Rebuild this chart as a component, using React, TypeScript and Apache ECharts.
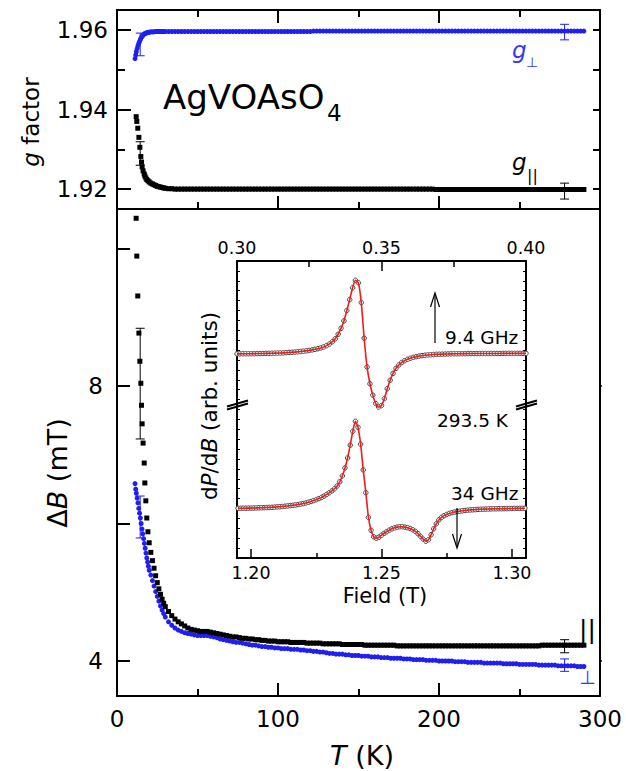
import React, { useEffect, useRef } from "react";
import * as echarts from "echarts";

// ---------- main panel data (T in K) ----------
const tPerpLow = [11.2, 11.6, 12.0, 12.5, 13.0, 13.5, 14.0, 14.5, 15.0, 15.5, 16.0, 16.5, 17.0, 17.5, 18.0, 18.5, 19.0, 19.5, 20.0, 21.0, 22.0, 23.0, 24.0, 25.0, 26.0, 27.0, 28.0, 29.0];
const tParLow = [11.9, 12.3, 12.9, 13.6, 14.2, 14.8, 15.2, 15.6, 16.2, 16.9, 17.3, 17.9, 18.5, 19.2, 20.0, 21.0, 22.0, 23.0, 24.0, 25.0, 26.0, 27.0, 28.0, 29.0];
const tHigh = [
  30, 32, 34, 36, 38, 40, 42, 44, 46, 48,
  50, 52, 54, 56, 58, 60, 62, 64, 66, 68,
  70, 72, 74, 76, 78, 80, 82, 84, 86, 88,
  90, 92, 94, 96, 98, 100, 102, 104, 106, 108,
  110, 112, 114, 116, 118, 120, 122, 124, 126, 128,
  130, 132, 134, 136, 138, 140, 142, 144, 146, 148,
  150, 152, 154, 156, 158, 160, 162, 164, 166, 168,
  170, 172, 174, 176, 178, 180, 182, 184, 186, 188,
  190, 192, 194, 196, 198, 200, 202, 204, 206, 208,
  210, 212, 214, 216, 218, 220, 222, 224, 226, 228,
  230, 232, 234, 236, 238, 240, 242, 244, 246, 248,
  250, 252, 254, 256, 258, 260, 262, 264, 266, 268,
  270, 272, 274, 276, 278, 280, 282, 284, 286, 288,
  290,
];

// g factor, perpendicular (blue circles)
const gPerpLow = [1.9528, 1.9537, 1.9545, 1.9553, 1.956, 1.9566, 1.9571, 1.9576, 1.958, 1.9583, 1.9586, 1.9588, 1.959, 1.9591, 1.9592, 1.9593, 1.9593, 1.9594, 1.9594, 1.9595, 1.9595, 1.9595, 1.9596, 1.9596, 1.9596, 1.9596, 1.9596, 1.9596];
const gPerpHigh = [
  1.9596, 1.9596, 1.9596, 1.9596, 1.9596, 1.9596, 1.9596, 1.9596, 1.9596, 1.9596,
  1.9596, 1.9596, 1.9596, 1.9596, 1.9596, 1.9596, 1.9596, 1.9596, 1.9596, 1.9596,
  1.9596, 1.9596, 1.9596, 1.9596, 1.9596, 1.9596, 1.9596, 1.9596, 1.9596, 1.9596,
  1.9596, 1.9596, 1.9596, 1.9596, 1.9596, 1.9596, 1.9596, 1.9596, 1.9596, 1.9596,
  1.9596, 1.9596, 1.9596, 1.9596, 1.9596, 1.9596, 1.9597, 1.9597, 1.9597, 1.9597,
  1.9597, 1.9597, 1.9597, 1.9597, 1.9597, 1.9597, 1.9597, 1.9597, 1.9597, 1.9597,
  1.9597, 1.9597, 1.9597, 1.9597, 1.9597, 1.9597, 1.9597, 1.9597, 1.9597, 1.9597,
  1.9597, 1.9597, 1.9597, 1.9597, 1.9597, 1.9597, 1.9597, 1.9597, 1.9597, 1.9597,
  1.9597, 1.9597, 1.9597, 1.9597, 1.9597, 1.9597, 1.9597, 1.9597, 1.9597, 1.9597,
  1.9597, 1.9597, 1.9597, 1.9597, 1.9597, 1.9597, 1.9597, 1.9597, 1.9597, 1.9597,
  1.9597, 1.9597, 1.9597, 1.9597, 1.9597, 1.9597, 1.9597, 1.9597, 1.9597, 1.9597,
  1.9597, 1.9597, 1.9597, 1.9597, 1.9597, 1.9597, 1.9597, 1.9597, 1.9597, 1.9597,
  1.9597, 1.9597, 1.9597, 1.9597, 1.9597, 1.9597, 1.9597, 1.9597, 1.9597, 1.9597,
  1.9597,
];

// g factor, parallel (black squares)
const gParLow = [1.9382, 1.937, 1.9353, 1.933, 1.9305, 1.9282, 1.9268, 1.9256, 1.9246, 1.9238, 1.9233, 1.9228, 1.9224, 1.9221, 1.9218, 1.9215, 1.9213, 1.9211, 1.9209, 1.9207, 1.9206, 1.9205, 1.9204, 1.9203];
const gParHigh = [
  1.9202, 1.9201, 1.9201, 1.92, 1.92, 1.92, 1.92, 1.92, 1.92, 1.92,
  1.92, 1.92, 1.92, 1.92, 1.92, 1.92, 1.92, 1.92, 1.92, 1.92,
  1.92, 1.92, 1.92, 1.92, 1.92, 1.92, 1.92, 1.92, 1.92, 1.92,
  1.92, 1.92, 1.92, 1.92, 1.92, 1.92, 1.92, 1.92, 1.92, 1.92,
  1.92, 1.92, 1.92, 1.92, 1.92, 1.92, 1.92, 1.92, 1.92, 1.92,
  1.92, 1.92, 1.92, 1.92, 1.92, 1.92, 1.92, 1.92, 1.92, 1.92,
  1.92, 1.92, 1.92, 1.92, 1.92, 1.92, 1.92, 1.92, 1.92, 1.92,
  1.92, 1.92, 1.92, 1.92, 1.92, 1.92, 1.92, 1.92, 1.92, 1.92,
  1.92, 1.92, 1.92, 1.92, 1.9199, 1.9199, 1.9199, 1.9199, 1.9199, 1.9199,
  1.9199, 1.9199, 1.9199, 1.9199, 1.9199, 1.9199, 1.9199, 1.9199, 1.9199, 1.9199,
  1.9199, 1.9199, 1.9199, 1.9199, 1.9199, 1.9199, 1.9199, 1.9199, 1.9199, 1.9199,
  1.9199, 1.9199, 1.9199, 1.9199, 1.9199, 1.9199, 1.9199, 1.9199, 1.9199, 1.9199,
  1.9199, 1.9199, 1.9199, 1.9199, 1.9199, 1.9199, 1.9199, 1.9199, 1.9199, 1.9199,
  1.9199,
];

// line width ΔB (mT), perpendicular (blue)
const dBPerpLow = [6.58, 6.5, 6.44, 6.37, 6.3, 6.22, 6.15, 6.08, 6.0, 5.92, 5.85, 5.78, 5.71, 5.64, 5.57, 5.5, 5.44, 5.38, 5.32, 5.25, 5.17, 5.09, 5.01, 4.94, 4.87, 4.8, 4.74, 4.69];
const dBPerpHigh = [
  4.64, 4.57, 4.52, 4.48, 4.45, 4.43, 4.41, 4.4, 4.39, 4.38,
  4.37, 4.37, 4.37, 4.37, 4.36, 4.35, 4.34, 4.32, 4.31, 4.3,
  4.29, 4.28, 4.27, 4.27, 4.26, 4.25, 4.24, 4.23, 4.23, 4.22,
  4.21, 4.21, 4.2, 4.2, 4.19, 4.19, 4.18, 4.18, 4.18, 4.17,
  4.17, 4.17, 4.16, 4.16, 4.15, 4.15, 4.14, 4.14, 4.13, 4.13,
  4.12, 4.11, 4.11, 4.1, 4.1, 4.1, 4.09, 4.09, 4.08, 4.08,
  4.08, 4.07, 4.07, 4.07, 4.06, 4.06, 4.06, 4.05, 4.05, 4.05,
  4.04, 4.04, 4.04, 4.04, 4.03, 4.03, 4.03, 4.02, 4.02, 4.02,
  4.02, 4.01, 4.01, 4.01, 4.01, 4.0, 4.0, 4.0, 4.0, 4.0,
  3.99, 3.99, 3.99, 3.99, 3.98, 3.98, 3.98, 3.98, 3.98, 3.97,
  3.97, 3.97, 3.97, 3.97, 3.97, 3.96, 3.96, 3.96, 3.96, 3.96,
  3.95, 3.95, 3.95, 3.95, 3.95, 3.95, 3.94, 3.94, 3.94, 3.94,
  3.94, 3.94, 3.93, 3.93, 3.93, 3.93, 3.93, 3.93, 3.92, 3.92,
  3.92,
];

// line width ΔB (mT), parallel (black)
const dBParLow = [10.44, 9.89, 9.31, 8.77, 8.36, 8.04, 7.72, 7.45, 7.17, 6.88, 6.59, 6.33, 6.08, 5.88, 5.72, 5.58, 5.46, 5.35, 5.24, 5.14, 5.05, 4.97, 4.9, 4.84];
const dBParHigh = [
  4.79, 4.72, 4.66, 4.61, 4.57, 4.54, 4.51, 4.48, 4.46, 4.45,
  4.44, 4.43, 4.43, 4.43, 4.42, 4.41, 4.4, 4.39, 4.38, 4.37,
  4.36, 4.35, 4.35, 4.34, 4.33, 4.33, 4.32, 4.32, 4.31, 4.31,
  4.3, 4.3, 4.29, 4.29, 4.29, 4.28, 4.28, 4.28, 4.28, 4.27,
  4.27, 4.27, 4.27, 4.27, 4.26, 4.26, 4.26, 4.26, 4.26, 4.25,
  4.25, 4.25, 4.25, 4.25, 4.25, 4.24, 4.24, 4.24, 4.24, 4.24,
  4.24, 4.24, 4.23, 4.23, 4.23, 4.23, 4.23, 4.23, 4.23, 4.23,
  4.23, 4.23, 4.22, 4.22, 4.22, 4.22, 4.22, 4.22, 4.22, 4.22,
  4.22, 4.22, 4.22, 4.22, 4.22, 4.22, 4.22, 4.22, 4.22, 4.22,
  4.22, 4.22, 4.22, 4.22, 4.22, 4.22, 4.22, 4.22, 4.22, 4.22,
  4.22, 4.22, 4.22, 4.22, 4.22, 4.22, 4.22, 4.22, 4.22, 4.22,
  4.22, 4.22, 4.22, 4.22, 4.22, 4.22, 4.22, 4.23, 4.23, 4.23,
  4.23, 4.23, 4.23, 4.23, 4.23, 4.23, 4.23, 4.23, 4.23, 4.23,
  4.23,
];

// error bars: [T, low, high]
const gPerpErr = [[14.4, 1.9535, 1.9592], [278, 1.9575, 1.9614]];
const gParErr = [[14.4, 1.926, 1.9319], [278, 1.9175, 1.9215]];
const dBPerpErr = [[14.4, 5.79, 6.4], [278, 3.85, 4.03]];
const dBParErr = [[14.4, 7.23, 8.84], [278, 4.12, 4.31]];

// ---------- inset: EPR spectra at 293.5 K (arb. units incl. vertical offset) ----------
const epr9Start = 0.3; // T, field step 0.001 T
const epr9Step = 0.001;
const epr9Signal = [
  20.62, 20.62, 20.63, 20.63, 20.63, 20.64, 20.64, 20.65, 20.65, 20.66,
  20.67, 20.67, 20.68, 20.69, 20.7, 20.71, 20.72, 20.74, 20.76, 20.78,
  20.8, 20.83, 20.86, 20.89, 20.93, 20.97, 21.02, 21.08, 21.14, 21.22,
  21.32, 21.45, 21.62, 21.85, 22.15, 22.6, 23.2, 23.95, 25.0, 26.1,
  27.3, 28.05, 27.8, 25.8, 22.2, 19.3, 17.6, 16.45, 15.6, 15.25,
  15.4, 16.1, 17.1, 17.95, 18.65, 19.15, 19.5, 19.75, 19.93, 20.07,
  20.18, 20.27, 20.34, 20.4, 20.44, 20.48, 20.51, 20.53, 20.55, 20.57,
  20.58, 20.59, 20.6, 20.61, 20.62, 20.63, 20.63, 20.64, 20.64, 20.64,
  20.65, 20.65, 20.65, 20.65, 20.66, 20.66, 20.66, 20.66, 20.66, 20.66,
  20.66, 20.66, 20.67, 20.67, 20.67, 20.67, 20.67, 20.67, 20.67, 20.67,
  20.67,
];
const epr34Start = 1.195; // T, field step 0.001 T
const epr34Step = 0.001;
const epr34Signal = [
  5.02, 5.02, 5.03, 5.03, 5.04, 5.04, 5.05, 5.06, 5.07, 5.08,
  5.09, 5.1, 5.11, 5.12, 5.14, 5.16, 5.18, 5.2, 5.23, 5.26,
  5.29, 5.32, 5.36, 5.4, 5.45, 5.5, 5.56, 5.63, 5.71, 5.8,
  5.89, 6.0, 6.12, 6.26, 6.42, 6.6, 6.78, 7.0, 7.28, 7.7,
  8.3, 9.1, 10.1, 11.4, 12.8, 13.8, 13.2, 11.5, 8.9, 6.6,
  4.1, 2.8, 2.15, 2.0, 2.1, 2.3, 2.5, 2.66, 2.82, 2.95,
  3.05, 3.12, 3.16, 3.16, 3.12, 3.06, 2.98, 2.85, 2.68, 2.45,
  2.18, 1.9, 1.7, 1.85, 2.35, 2.95, 3.45, 3.85, 4.1, 4.28,
  4.4, 4.5, 4.58, 4.64, 4.69, 4.73, 4.77, 4.8, 4.83, 4.85,
  4.87, 4.89, 4.91, 4.92, 4.93, 4.94, 4.95, 4.96, 4.97, 4.97,
  4.98, 4.98, 4.99, 4.99, 5.0, 5.0, 5.01, 5.01, 5.01, 5.02,
  5.02,
];

// tick / label values
const tTicks = [0, 100, 200, 300];
const gLabelTicks = [1.92, 1.94, 1.96];
const gMinorTicks = [1.93, 1.95];
const gRightTicks = [1.92, 1.93, 1.94, 1.95, 1.96];
const dBLabelTicks = [4, 8];
const dBTicks = [4, 6, 8, 10];
const fieldLowTicks = [0.3, 0.35, 0.4];
const fieldHighTicks = [1.2, 1.25, 1.3];
const fieldHighMinor = [1.225, 1.275];

const FONT = "DejaVu Sans";
const BLUE = "#1f1ff2";
const BLUE_TXT = "#3535ff";

const zip = (xs: number[], ys: number[]) => xs.map((x, i) => [x, ys[i]]);
const sweep = (start: number, step: number, ys: number[]) =>
  ys.map((y, i) => [+(start + i * step).toFixed(4), y]);

const errRender = (color: string) => (params: any, api: any) => {
  const x = api.value(0);
  const p1 = api.coord([x, api.value(1)]);
  const p2 = api.coord([x, api.value(2)]);
  const hw = 4.5;
  const style = { stroke: color, lineWidth: 1 };
  return {
    type: "group",
    children: [
      { type: "line", shape: { x1: p1[0], y1: p1[1], x2: p2[0], y2: p2[1] }, style },
      { type: "line", shape: { x1: p1[0] - hw, y1: p1[1], x2: p1[0] + hw, y2: p1[1] }, style },
      { type: "line", shape: { x1: p2[0] - hw, y1: p2[1], x2: p2[0] + hw, y2: p2[1] }, style },
    ],
  };
};

const frameLine = { show: true, onZero: false, lineStyle: { color: "#000", width: 2 } };
const noSplit = { show: false };

function buildOption() {
  const tPerp = [...tPerpLow, ...tHigh];
  const tPar = [...tParLow, ...tHigh];
  const gPerp = zip(tPerp, [...gPerpLow, ...gPerpHigh]);
  const gPar = zip(tPar, [...gParLow, ...gParHigh]);
  const dBPerp = zip(tPerp, [...dBPerpLow, ...dBPerpHigh]);
  const dBPar = zip(tPar, [...dBParLow, ...dBParHigh]);
  const epr9 = sweep(epr9Start, epr9Step, epr9Signal);
  const epr34 = sweep(epr34Start, epr34Step, epr34Signal);

  const tAxisBase = (grid: number, pos: string, labels: boolean) => ({
    type: "value",
    gridIndex: grid,
    position: pos,
    min: tTicks[0],
    max: tTicks[tTicks.length - 1],
    interval: 100,
    axisLine: frameLine,
    axisTick: { show: true, inside: true, length: 13, lineStyle: { color: "#000", width: 2 } },
    minorTick: { show: true, splitNumber: 2, length: 7, lineStyle: { color: "#000", width: 2 } },
    axisLabel: { show: labels, fontSize: 23, fontFamily: FONT, color: "#000", margin: 11 },
    splitLine: noSplit,
    minorSplitLine: noSplit,
  });

  const textEl = (x: number, y: number, text: string, size: number, opts: any = {}) => ({
    type: "text",
    x,
    y,
    rotation: opts.rotation || 0,
    z: 100,
    style: {
      text,
      fontSize: size,
      fontFamily: FONT,
      fontStyle: opts.italic ? "italic" : "normal",
      fill: opts.color || "#000",
      align: opts.align || "center",
      verticalAlign: "middle",
      rich: opts.rich,
    },
  });
  const rich = (size: number) => ({
    i: { fontStyle: "italic", fontSize: size, fontFamily: FONT, fill: "#000" },
    n: { fontStyle: "normal", fontSize: size, fontFamily: FONT, fill: "#000" },
  });
  const lineEl = (x1: number, y1: number, x2: number, y2: number, w = 1.2) => ({
    type: "line",
    z: 100,
    shape: { x1, y1, x2, y2 },
    style: { stroke: "#000", lineWidth: w },
  });

  return {
    animation: false,
    backgroundColor: "#fff",
    textStyle: { fontFamily: FONT },
    grid: [
      { left: 117, top: 10, width: 483, height: 199, outerBoundsMode: "none" },
      { left: 117, top: 209, width: 483, height: 487, outerBoundsMode: "none" },
      { left: 237, top: 261, width: 289, height: 297, outerBoundsMode: "none" },
    ],
    xAxis: [
      tAxisBase(0, "bottom", false),
      tAxisBase(0, "top", false),
      tAxisBase(1, "bottom", true),
      {
        type: "value", gridIndex: 1, position: "top", min: 0, max: 300,
        axisLine: frameLine, axisTick: { show: false }, axisLabel: { show: false }, splitLine: noSplit,
      },
      {
        type: "value", gridIndex: 2, position: "top", min: fieldLowTicks[0], max: fieldLowTicks[2], interval: 0.05,
        axisLine: { show: true, onZero: false, lineStyle: { color: "#000", width: 2 } },
        axisTick: { show: true, inside: true, length: 10, lineStyle: { color: "#000", width: 1.5 } },
        minorTick: { show: true, splitNumber: 2, length: 6, lineStyle: { color: "#000", width: 1.5 } },
        axisLabel: { show: true, fontSize: 17.5, fontFamily: FONT, color: "#000", margin: 4, formatter: (v: number) => v.toFixed(2) },
        splitLine: noSplit, minorSplitLine: noSplit,
      },
      {
        type: "value", gridIndex: 2, position: "bottom", min: 1.1946, max: 1.3054,
        axisLine: { show: true, onZero: false, lineStyle: { color: "#000", width: 2 } },
        axisTick: { show: true, inside: true, length: 9, customValues: fieldHighTicks, lineStyle: { color: "#000", width: 1.5 } },
        axisLabel: { show: true, customValues: fieldHighTicks, fontSize: 17.5, fontFamily: FONT, color: "#000", margin: 6, formatter: (v: number) => v.toFixed(2) },
        splitLine: noSplit,
      },
      {
        type: "value", gridIndex: 2, position: "bottom", min: 1.1946, max: 1.3054,
        axisLine: { show: false },
        axisTick: { show: true, inside: true, length: 5, customValues: fieldHighMinor, lineStyle: { color: "#000", width: 1.5 } },
        axisLabel: { show: false },
        splitLine: noSplit,
      },
    ],
    yAxis: [
      {
        type: "value", gridIndex: 0, position: "left", min: 1.915, max: 1.965,
        axisLine: frameLine,
        axisTick: { show: true, inside: true, length: 14, customValues: gLabelTicks, lineStyle: { color: "#000", width: 2 } },
        axisLabel: { show: true, customValues: gLabelTicks, fontSize: 23, fontFamily: FONT, color: "#000", margin: 9, formatter: (v: number) => v.toFixed(2) },
        splitLine: noSplit,
      },
      {
        type: "value", gridIndex: 0, position: "left", min: 1.915, max: 1.965,
        axisLine: { show: false },
        axisTick: { show: true, inside: true, length: 8, customValues: gMinorTicks, lineStyle: { color: "#000", width: 2 } },
        axisLabel: { show: false }, splitLine: noSplit,
      },
      {
        type: "value", gridIndex: 0, position: "right", min: 1.915, max: 1.965,
        axisLine: frameLine,
        axisTick: { show: true, inside: true, length: 7, customValues: gRightTicks, lineStyle: { color: "#000", width: 2 } },
        axisLabel: { show: false }, splitLine: noSplit,
      },
      {
        type: "value", gridIndex: 1, position: "left", min: 3.491, max: 10.575,
        axisLine: frameLine,
        axisTick: { show: true, inside: true, length: 13, customValues: dBTicks, lineStyle: { color: "#000", width: 2 } },
        axisLabel: { show: true, customValues: dBLabelTicks, fontSize: 23, fontFamily: FONT, color: "#000", margin: 14 },
        splitLine: noSplit,
      },
      {
        type: "value", gridIndex: 1, position: "right", min: 3.491, max: 10.575,
        axisLine: frameLine,
        axisTick: { show: true, inside: false, length: 2, customValues: dBLabelTicks, lineStyle: { color: "#000", width: 1.5 } },
        axisLabel: { show: false }, splitLine: noSplit,
      },
      {
        type: "value", gridIndex: 2, position: "left", min: 0, max: 30, interval: 1,
        axisLine: { show: true, onZero: false, lineStyle: { color: "#000", width: 2 } },
        axisTick: { show: true, inside: true, length: 3, lineStyle: { color: "#000", width: 1 } },
        axisLabel: { show: false }, splitLine: noSplit,
      },
      {
        type: "value", gridIndex: 2, position: "right", min: 0, max: 30, interval: 1,
        axisLine: { show: true, onZero: false, lineStyle: { color: "#000", width: 2 } },
        axisTick: { show: true, inside: true, length: 3, lineStyle: { color: "#000", width: 1 } },
        axisLabel: { show: false }, splitLine: noSplit,
      },
    ],
    series: [
      { type: "scatter", xAxisIndex: 0, yAxisIndex: 0, data: gPerp, symbol: "circle", symbolSize: 5, itemStyle: { color: BLUE, opacity: 1 } },
      { type: "scatter", xAxisIndex: 0, yAxisIndex: 0, data: gPar, symbol: "rect", symbolSize: 5, itemStyle: { color: "#000", opacity: 1 } },
      { type: "scatter", xAxisIndex: 2, yAxisIndex: 3, data: dBPerp, symbol: "circle", symbolSize: 5, itemStyle: { color: BLUE, opacity: 1 } },
      { type: "scatter", xAxisIndex: 2, yAxisIndex: 3, data: dBPar, symbol: "rect", symbolSize: 5, itemStyle: { color: "#000", opacity: 1 } },
      { type: "custom", xAxisIndex: 0, yAxisIndex: 0, data: gPerpErr, renderItem: errRender(BLUE), encode: { x: 0, y: [1, 2] }, z: 5 },
      { type: "custom", xAxisIndex: 0, yAxisIndex: 0, data: gParErr, renderItem: errRender("#000"), encode: { x: 0, y: [1, 2] }, z: 5 },
      { type: "custom", xAxisIndex: 2, yAxisIndex: 3, data: dBPerpErr, renderItem: errRender(BLUE), encode: { x: 0, y: [1, 2] }, z: 5 },
      { type: "custom", xAxisIndex: 2, yAxisIndex: 3, data: dBParErr, renderItem: errRender("#000"), encode: { x: 0, y: [1, 2] }, z: 5 },
      { type: "scatter", xAxisIndex: 4, yAxisIndex: 5, data: epr9, symbol: "circle", symbolSize: 4.5, itemStyle: { color: "#fff", borderColor: "#444", borderWidth: 1, opacity: 1 } },
      { type: "line", xAxisIndex: 4, yAxisIndex: 5, data: epr9, showSymbol: false, smooth: 0.2, lineStyle: { color: "#ee1c1c", width: 1.6 }, z: 4 },
      { type: "scatter", xAxisIndex: 5, yAxisIndex: 5, data: epr34, symbol: "circle", symbolSize: 4.5, itemStyle: { color: "#fff", borderColor: "#444", borderWidth: 1, opacity: 1 } },
      { type: "line", xAxisIndex: 5, yAxisIndex: 5, data: epr34, showSymbol: false, smooth: 0.2, lineStyle: { color: "#ee1c1c", width: 1.6 }, z: 4 },
    ],
    graphic: [
      // axis titles
      textEl(31, 122, "{i|g}{n| factor}", 23, { rotation: Math.PI / 2, rich: rich(23) }),
      textEl(57, 473, "{n|Δ}{i|B}{n| (mT)}", 27, { rotation: Math.PI / 2, rich: rich(27) }),
      textEl(362, 755, "{i|T}{n| (K)}", 27, { rich: rich(27) }),
      textEl(209, 406, "{n|d}{i|P}{n|/d}{i|B}{n| (arb. units)}", 21.5, { rotation: Math.PI / 2, rich: rich(21.5) }),
      textEl(385, 596, "Field (T)", 21),
      // compound name
      textEl(163, 97, "AgVOAsO", 34, { align: "left" }),
      textEl(327, 113, "4", 23, { align: "left" }),
      // g labels
      textEl(512, 50, "g", 23, { align: "left", italic: true, color: BLUE_TXT }),
      textEl(526, 62, "⊥", 14, { align: "left", color: BLUE_TXT }),
      textEl(512, 162, "g", 23, { align: "left", italic: true }),
      textEl(527, 175, "||", 16, { align: "left" }),
      // ΔB labels
      textEl(587.5, 629, "||", 25),
      textEl(587.5, 677, "⊥", 19, { color: BLUE_TXT }),
      // inset texts
      textEl(445, 337, "9.4 GHz", 18.5, { align: "left" }),
      textEl(437, 420, "293.5 K", 18.5, { align: "left" }),
      textEl(451, 493, "34 GHz", 18.5, { align: "left" }),
      // arrows
      lineEl(435, 343, 435, 294),
      { type: "polyline", z: 100, shape: { points: [[430.5, 307], [435, 293], [439.5, 307]] }, style: { stroke: "#000", lineWidth: 1.2, fill: "none" } },
      lineEl(457, 508, 457, 547),
      { type: "polyline", z: 100, shape: { points: [[452.5, 534], [457, 548], [461.5, 534]] }, style: { stroke: "#000", lineWidth: 1.2, fill: "none" } },
      // axis break marks
      lineEl(227, 406.5, 248, 400.5, 2),
      lineEl(227, 409.5, 248, 403.5, 2),
      lineEl(516, 406.5, 537, 400.5, 2),
      lineEl(516, 409.5, 537, 403.5, 2),
    ],
  };
}

export default function App() {
  const ref = useRef<HTMLDivElement>(null);
  useEffect(() => {
    if (!ref.current) return;
    const chart = echarts.init(ref.current, null, { renderer: "svg" });
    chart.setOption(buildOption() as any);
    return () => chart.dispose();
  }, []);
  return (
    <div
      ref={ref}
      style={{ position: "fixed", left: 0, top: 0, width: 626, height: 771, background: "#fff" }}
    />
  );
}
